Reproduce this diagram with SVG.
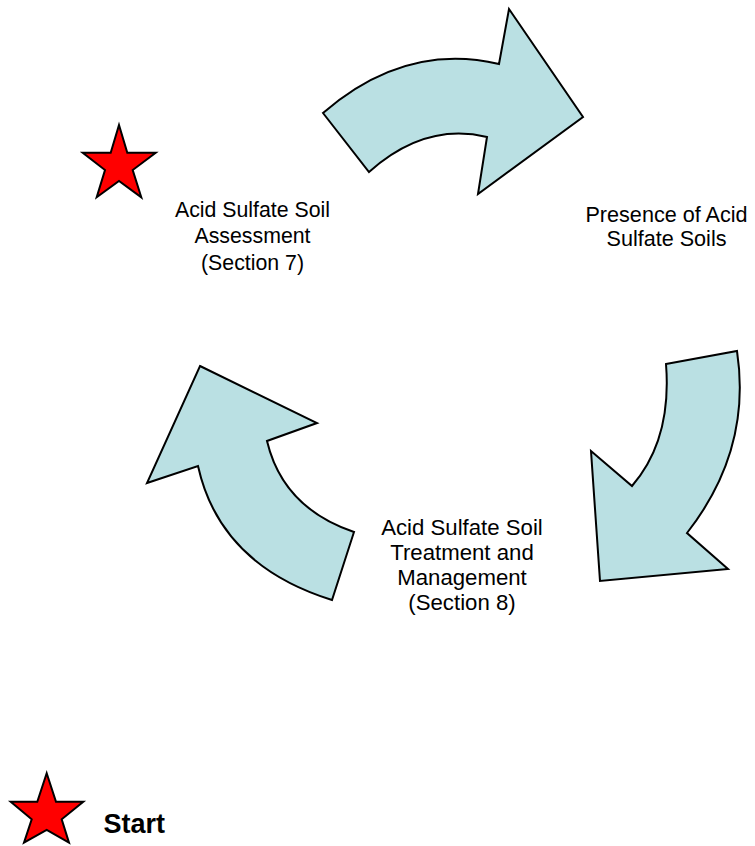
<svg xmlns="http://www.w3.org/2000/svg" width="755" height="846" viewBox="0 0 755 846">
<style>
.arrow{fill:#BAE0E3;stroke:#000;stroke-width:2;stroke-linejoin:miter}
.star{fill:#FF0000;stroke:#000;stroke-width:2;stroke-linejoin:miter}
.lbl{font-family:"Liberation Sans",Arial,sans-serif;fill:#000;text-anchor:middle}
</style>
<rect width="755" height="846" fill="#fff"/>
<g id="connectors">
<path id="arrow-top" class="arrow" d="M323,113 Q405,42 499,64 L509,9 L583,117 L478,194 L487,137 Q425,122 369,172 Z"/>
<path id="arrow-right" class="arrow" d="M666,364 L737,351 Q752,450 687,533 L728,569 L600,581 L591,451 L632,486 Q672,440 666,364 Z"/>
<path id="arrow-left" class="arrow" d="M200,366 L317,423 L267,441 Q283,508 354,532 L332,600 Q220,565 198,466 L147,483 Z"/>
</g>
<g id="star-start">
<polygon class="star" points="119,125 127.3,152.7 155.7,152.7 132.7,170 141.3,197.3 119,181 96.7,197.3 105,170 82.7,152.7 110.7,152.7"/>
</g>
<g id="node-assessment">
<text class="lbl" font-size="21.3" x="252.5" y="217">Acid Sulfate Soil</text>
<text class="lbl" font-size="21.3" x="252.5" y="243.3">Assessment</text>
<text class="lbl" font-size="21.3" x="252.5" y="269.5">(Section 7)</text>
</g>
<g id="node-presence">
<text class="lbl" font-size="21.6" x="666.5" y="221.8">Presence of Acid</text>
<text class="lbl" font-size="21.6" x="666.5" y="246.2">Sulfate Soils</text>
</g>
<g id="node-treatment">
<text class="lbl" font-size="22.2" x="462" y="535">Acid Sulfate Soil</text>
<text class="lbl" font-size="22.2" x="462" y="560">Treatment and</text>
<text class="lbl" font-size="22.2" x="462" y="585">Management</text>
<text class="lbl" font-size="22.2" x="462" y="609.5">(Section 8)</text>
</g>
<g id="legend">
<polygon class="star" points="46.7,773.3 56,801.7 83.3,801.7 61.7,819.3 69,842.7 46.7,830 24,842.7 31.7,819.3 10.7,801.7 37.3,801.7"/>
<text font-family="Liberation Sans,Arial,sans-serif" font-weight="bold" font-size="27" x="103.5" y="833">Start</text>
</g>
</svg>
